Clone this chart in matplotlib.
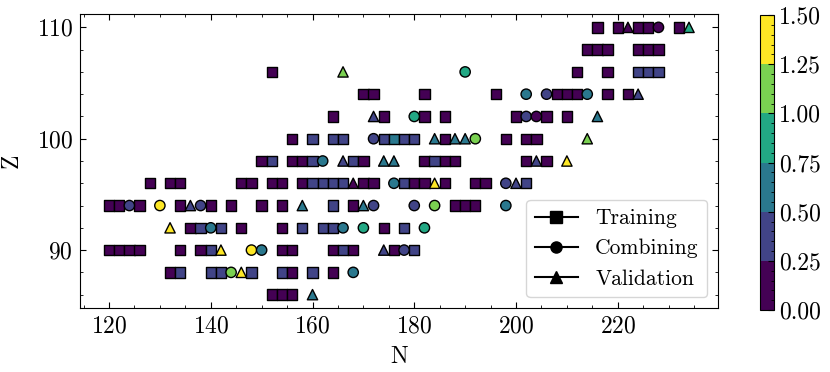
import numpy as np
import matplotlib
matplotlib.use("Agg")
import matplotlib.pyplot as plt
from matplotlib.colors import BoundaryNorm
from matplotlib.lines import Line2D
from matplotlib.ticker import MultipleLocator

plt.rcParams['font.family'] = ['cmr10', 'DejaVu Serif']
plt.rcParams['mathtext.fontset'] = 'cm'
plt.rcParams['axes.formatter.use_mathtext'] = True
plt.rcParams['font.size'] = 17

# bin-representative values
d, b, t, g, l, y = 0.12, 0.37, 0.62, 0.87, 1.12, 1.37

# Training (squares)
train_N = [216, 220, 224, 226, 232,
           214, 216, 218, 224, 226, 228,
           152, 212, 218, 224, 226, 228,
           170, 172, 182, 196, 208, 210, 212, 218, 222,
           164, 174, 182, 186, 200, 206, 210,
           156, 160, 164, 166, 174, 176, 178, 180, 186, 198, 202, 204,
           150, 152, 156, 158, 160, 168, 170, 182, 184, 186, 188, 202, 206,
           128, 132, 134, 146, 148, 152, 154, 158, 160, 162, 164, 166, 170, 172, 178, 180, 182, 186, 192, 194, 202,
           120, 122, 126, 134, 140, 144, 150, 154, 164, 168, 188, 190, 192,
           136, 138, 142, 146, 154, 158, 162, 164, 174, 178,
           120, 122, 124, 126, 134, 138, 140, 154, 156, 164, 166, 168, 176, 180,
           132, 134, 140, 142, 148, 154, 156, 160, 164,
           152, 154, 156]
train_Z = ([110] * 5 + [108] * 6 + [106] * 6 + [104] * 9 + [102] * 7 + [100] * 12 +
           [98] * 13 + [96] * 21 + [94] * 13 + [92] * 10 + [90] * 14 + [88] * 9 + [86] * 3)
train_V = [d, d, d, d, d,
           d, d, d, d, d, d,
           d, d, d, b, b, b,
           d, d, d, d, d, d, d, d, d,
           d, d, d, d, d, d, d,
           d, b, b, b, b, t, b, b, d, d, d, d,
           d, b, d, d, b, b, d, d, b, d, d, d, d,
           d, d, d, d, d, d, d, d, b, b, b, b, d, d, b, d, d, d, d, d, b,
           d, d, d, d, d, d, d, d, b, d, d, d, d,
           d, b, b, d, d, b, b, b, d, b,
           d, d, d, d, d, d, b, d, d, d, b, d, d, b,
           d, b, b, b, b, b, d, b, d,
           d, d, d]

# Combining (circles)
comb_N = [228, 190, 202, 206, 214, 180, 202, 204, 172, 192, 162, 176, 198,
          124, 130, 138, 172, 180, 184, 198, 140, 166, 170, 182, 148, 150, 178, 144, 168]
comb_Z = [110, 106, 104, 104, 104, 102, 102, 102, 100, 100, 98, 96, 96,
          94, 94, 94, 94, 94, 94, 94, 92, 92, 92, 92, 90, 90, 90, 88, 88]
comb_V = [d, g, t, b, t, g, b, d, b, l, t, t, b,
          b, y, b, b, b, l, t, t, t, g, g, y, t, b, l, t]

# Validation (triangles)
val_N = [222, 234, 166, 224, 172, 216, 184, 188, 190, 214, 166, 174, 176, 204, 210,
         168, 184, 200, 136, 158, 170, 132, 142, 174, 146, 160]
val_Z = [110, 110, 106, 104, 102, 102, 100, 100, 100, 100, 98, 98, 98, 98, 98,
         96, 96, 96, 94, 94, 94, 92, 90, 90, 88, 86]
val_V = [d, g, l, b, b, t, t, t, t, l, b, t, t, b, y,
         d, y, b, b, t, t, y, y, b, y, t]

bounds = [0.0, 0.25, 0.5, 0.75, 1.0, 1.25, 1.5]
cmap = plt.get_cmap('viridis')
norm = BoundaryNorm(bounds, cmap.N)

fig = plt.figure(figsize=(8.3, 3.72), dpi=100)
ax = fig.add_axes([80 / 830, 64 / 372, 638 / 830, 294 / 372])
cax = fig.add_axes([760 / 830, 62 / 372, 14 / 830, 295 / 372])

kw = dict(cmap=cmap, norm=norm, edgecolors='black', linewidths=1.0, s=55, zorder=3)
sc = ax.scatter(train_N, train_Z, c=train_V, marker='s', **kw)
ax.scatter(comb_N, comb_Z, c=comb_V, marker='o', **kw)
ax.scatter(val_N, val_Z, c=val_V, marker='^', **kw)

ax.set_xlabel('N', labelpad=6)
ax.set_ylabel('Z', labelpad=10)
ax.set_xticks([120, 140, 160, 180, 200, 220])
ax.set_yticks([90, 100, 110])
ax.xaxis.set_minor_locator(MultipleLocator(5))
ax.yaxis.set_minor_locator(MultipleLocator(2))
ax.tick_params(which='both', direction='in', top=True, right=True)
ax.tick_params(which='major', length=4, pad=5)
ax.tick_params(which='minor', length=2)

handles = [Line2D([0], [0], color='k', marker='s', markersize=8, label='Training'),
           Line2D([0], [0], color='k', marker='o', markersize=8, label='Combining'),
           Line2D([0], [0], color='k', marker='^', markersize=8, label='Validation')]
ax.legend(handles=handles, loc='lower right', fontsize=15.5)

cb = fig.colorbar(sc, cax=cax, ticks=bounds)
cb.ax.set_yticklabels(['0.00', '0.25', '0.50', '0.75', '1.00', '1.25', '1.50'])
cb.ax.yaxis.set_minor_locator(MultipleLocator(0.05))
cb.ax.tick_params(which='both', direction='in')
cb.ax.tick_params(which='major', length=4)
cb.ax.tick_params(which='minor', length=2)
cb.outline.set_linewidth(0.8)

fig.savefig('out.png', dpi=100)
